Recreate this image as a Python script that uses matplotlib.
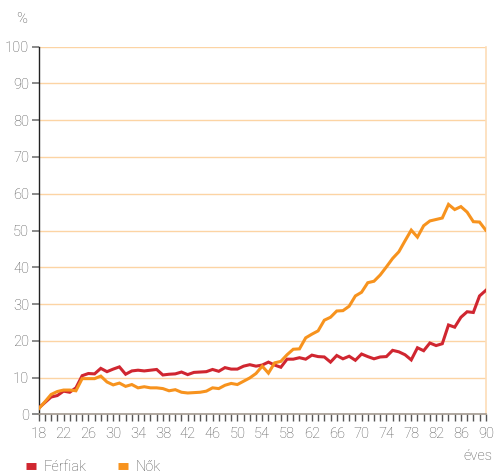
import matplotlib.pyplot as plt
from matplotlib.ticker import MultipleLocator

plt.rcParams['font.family'] = ['Roboto', 'DejaVu Sans']

# age groups (years) and share in %
ages = list(range(18, 91))
ferfiak = [1.7, 3.2, 4.7, 5.1, 6.3, 6.0, 7.2, 10.5, 11.1, 11.0,
           12.5, 11.6, 12.3, 12.9, 10.9, 11.8, 12.0, 11.8, 12.0, 12.2,
           10.7, 10.9, 11.0, 11.5, 10.8, 11.4, 11.5, 11.6, 12.2, 11.7,
           12.7, 12.3, 12.3, 13.1, 13.5, 13.1, 13.4, 14.2, 13.4, 12.8,
           15.0, 15.0, 15.4, 15.0, 16.1, 15.7, 15.6, 14.2, 16.0, 15.1,
           15.8, 14.7, 16.4, 15.7, 15.1, 15.6, 15.7, 17.4, 17.0, 16.2,
           14.8, 18.1, 17.3, 19.4, 18.7, 19.2, 24.3, 23.7, 26.4, 27.9,
           27.7, 32.2, 33.7]
nok = [1.5, 3.4, 5.4, 6.2, 6.6, 6.6, 6.4, 9.7, 9.7, 9.7,
       10.4, 8.8, 8.0, 8.5, 7.6, 8.1, 7.2, 7.5, 7.2, 7.2,
       7.0, 6.4, 6.7, 6.0, 5.8, 5.9, 6.0, 6.3, 7.2, 7.0,
       7.9, 8.4, 8.1, 9.0, 9.9, 11.1, 13.1, 11.2, 14.0, 14.4,
       16.2, 17.7, 17.8, 20.8, 21.8, 22.7, 25.6, 26.4, 28.1, 28.2,
       29.4, 32.2, 33.2, 35.8, 36.2, 37.9, 40.1, 42.4, 44.2, 47.2,
       50.1, 48.2, 51.3, 52.6, 53.0, 53.4, 57.1, 55.7, 56.5, 55.0,
       52.4, 52.3, 50.1]
xticks = list(range(18, 91, 4))
yticks = list(range(0, 101, 10))

red = '#D02630'
orange = '#F7931E'
grid_c = '#FCD4A4'
txt_c = '#555555'

fig = plt.figure(figsize=(4.94, 4.76), dpi=100)
ax = fig.add_axes([0.0783, 0.1296, 0.905, 0.7723])

for y in yticks[1:]:
    ax.axhline(y, color=grid_c, lw=1.0, zorder=1)

ax.plot(ages, ferfiak, color=red, lw=2.2, label='Férfiak', zorder=3,
        solid_joinstyle='miter')
ax.plot(ages, nok, color=orange, lw=2.2, label='Nők', zorder=3,
        solid_joinstyle='miter')

ax.set_xlim(18, 90)
ax.set_ylim(0, 100)
ax.set_xticks(xticks)
ax.xaxis.set_minor_locator(MultipleLocator(1))
ax.set_yticks(yticks)

ax.spines['top'].set_visible(False)
ax.spines['right'].set_color('#FDDDB8')
ax.spines['right'].set_linewidth(1.2)
ax.spines['left'].set_color('#222222')
ax.spines['left'].set_linewidth(1.0)
ax.spines['bottom'].set_color('#A39A90')
ax.spines['bottom'].set_linewidth(1.2)

ax.tick_params(axis='x', which='both', direction='out', length=5, width=1,
               color='#555555', labelsize=10.5, labelcolor=txt_c, pad=4)
ax.tick_params(axis='y', direction='out', length=5, width=1.2,
               color='#777777', labelsize=10.5, labelcolor=txt_c, pad=2)
for lab in ax.get_xticklabels() + ax.get_yticklabels():
    lab.set_fontweight('light')

fig.text(16 / 494, 1 - 19 / 476, '%', ha='left', va='center',
         fontsize=10.5, color=txt_c, fontweight='light')
fig.text(492 / 494, 1 - 456 / 476, 'éves', ha='right', va='center',
         fontsize=10.5, color=txt_c, fontweight='light')

leg = fig.legend(loc='center left', bbox_to_anchor=(20 / 494, 1 - 467 / 476),
                 ncol=2, frameon=False, fontsize=10.5, handlelength=0.7,
                 handletextpad=0.55, columnspacing=2.1, borderaxespad=0)
for h in leg.get_lines():
    h.set_linewidth(5)
    h.set_solid_capstyle('butt')
for t in leg.get_texts():
    t.set_color(txt_c)
    t.set_fontweight('light')

fig.savefig('out.png', dpi=100)
